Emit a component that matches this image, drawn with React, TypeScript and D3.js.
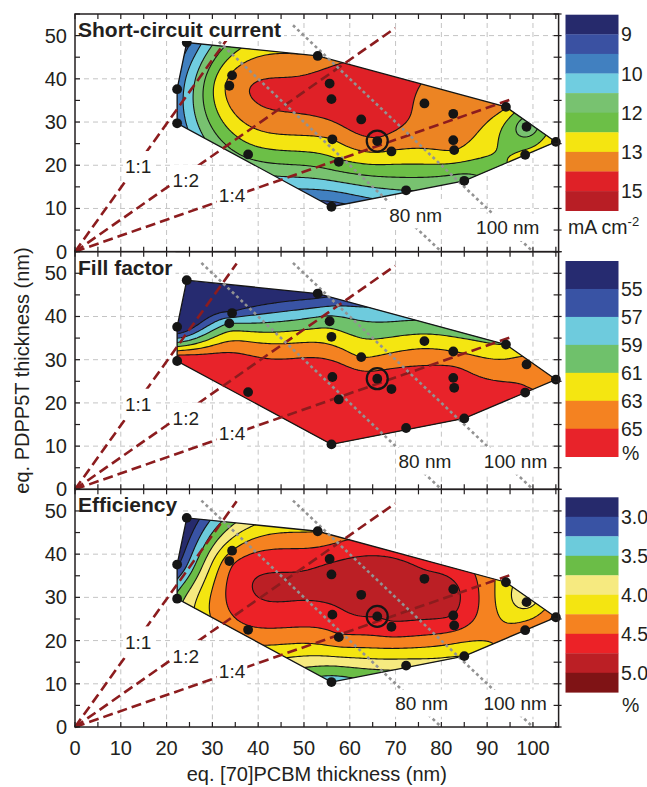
import React, { useLayoutEffect, useRef, useState } from 'react';
import * as d3 from 'd3';

const W = 647;
const H = 787;
const FONT = '"Liberation Sans", Arial, Helvetica, sans-serif';

// plot geometry
const X0 = 75;
const X_MAX = 105.6;
const PW = 483.6;
const PANEL_TOP = 14;
const PH = 237.67;
const Y_MAX = 55;

// device positions: eq. [70]PCBM (x) and eq. PDPP5T (y) thickness, nm
const pcbm = [24.4, 22.3, 22.3, 34.3, 33.7, 37.8, 53.0, 55.6, 56.0, 56.2, 57.6, 56.0, 62.5, 66.0, 69.1, 72.3, 76.3, 82.6, 82.6, 82.8, 85.0, 94.1, 98.6, 98.3, 105.0];
const pdpp = [48.4, 37.6, 29.7, 40.8, 38.4, 22.5, 45.3, 38.9, 35.3, 26.0, 20.8, 10.4, 30.6, 25.6, 23.2, 14.2, 34.3, 31.9, 25.8, 23.5, 16.4, 33.5, 28.9, 22.4, 25.4];
const circledDevice = 13;

// measured values at each device
const jsc = [9.5, 10.0, 9.9, 13.6, 13.7, 12.2, 13.6, 14.8, 14.75, 13.5, 12.6, 9.4, 14.75, 14.1, 13.45, 11.25, 14.1, 14.0, 13.8, 13.5, 11.6, 13.55, 11.6, 13.0, 13.6];
const ff = [50, 52.4, 67.3, 55.5, 59, 68, 54, 60, 62, 67, 68, 67, 63, 66, 67, 67, 62, 63, 66, 66, 67, 61, 64, 65.2, 64];
const eff = [2.7, 2.95, 3.6, 4.25, 4.4, 4.45, 4.25, 4.7, 4.85, 4.65, 4.45, 3.35, 4.95, 4.76, 4.68, 3.85, 4.8, 4.8, 4.74, 4.6, 4.0, 4.1, 3.9, 4.4, 4.55];

// contour levels and colour bands (low -> high)
const jscLevels = [9, 9.75, 10.5, 11.25, 12, 12.75, 13.5, 14.25, 15];
const jscColors = ['#262a6c', '#3a51a2', '#4180c0', '#70cde0', '#78c270', '#6cbf47', '#f4e511', '#ec8423', '#df2127', '#b81e25'];
const jscTicks = ['9', '', '10', '', '12', '', '13', '', '15'];

const ffLevels = [55, 57, 59, 61, 63, 65];
const ffColors = ['#262b70', '#3953a4', '#6ecbdd', '#6fc16b', '#f4e611', '#f48221', '#e8232a'];
const ffTicks = ['55', '57', '59', '61', '63', '65'];

const effLevels = [3.0, 3.25, 3.5, 3.75, 4.0, 4.25, 4.5, 4.75, 5.0];
const effColors = ['#262a6c', '#3953a4', '#6ccbdb', '#6bbd47', '#f6ea80', '#f4e511', '#f58220', '#ec2227', '#bb1f25', '#7f1315'];
const effTicks = ['3.0', '', '3.5', '', '4.0', '', '4.5', '', '5.0'];

// blend ratio lines (PDPP5T:PCBM) slope and end x
const ratioNames = ['1:1', '1:2', '1:4'];
const ratioSlopes = [1.48, 0.74, 0.37];
const ratioEnds = [35.3, 69.9, 95.7];
const ratioLabelAt = [[13.8, 19.7], [24.2, 16.5], [34.3, 13.0]];

// total thickness lines x + y = const
const totals = [80, 100];
const totalStartY = 52.4;

const titles = ['Short-circuit current', 'Fill factor', 'Efficiency'];
const units = ['mA cm', '%', '%'];
const cbTops = [14.7, 261, 497.3];
const cbBottoms = [210.7, 456.7, 692.3];
const unitY = [227, 453, 705];
const totalLabelAt = [
  [[74.4, 8.5], [94.5, 5.6]],
  [[76.4, 6.5], [96.2, 6.5]],
  [[75.7, 5.5], [96.1, 5.5]],
];

const panels = [
  { values: jsc, levels: jscLevels, colors: jscColors, ticks: jscTicks },
  { values: ff, levels: ffLevels, colors: ffColors, ticks: ffTicks },
  { values: eff, levels: effLevels, colors: effColors, ticks: effTicks },
];

const NX = 240;
const NY = 118;
const pts: [number, number][] = pcbm.map((x, i) => [x, pdpp[i]]);

// thin-plate spline through the measured devices (coordinates in 10 nm units)
function thinPlate(values: number[]) {
  const n = pts.length;
  const m = n + 3;
  const P = pts.map(([a, b]) => [a / 10, b / 10]);
  const phi = (r2: number) => (r2 > 0 ? 0.5 * r2 * Math.log(r2) : 0);
  const A: number[][] = [];
  for (let i = 0; i < m; i++) A.push(new Array(m + 1).fill(0));
  for (let i = 0; i < n; i++) {
    for (let j = 0; j < n; j++) {
      const r2 = (P[i][0] - P[j][0]) ** 2 + (P[i][1] - P[j][1]) ** 2;
      A[i][j] = phi(r2);
    }
    A[i][n] = 1; A[i][n + 1] = P[i][0]; A[i][n + 2] = P[i][1];
    A[n][i] = 1; A[n + 1][i] = P[i][0]; A[n + 2][i] = P[i][1];
    A[i][m] = values[i];
  }
  for (let c = 0; c < m; c++) {
    let piv = c;
    for (let r = c + 1; r < m; r++) if (Math.abs(A[r][c]) > Math.abs(A[piv][c])) piv = r;
    [A[c], A[piv]] = [A[piv], A[c]];
    for (let r = 0; r < m; r++) {
      if (r === c) continue;
      const f = A[r][c] / A[c][c];
      if (f === 0) continue;
      for (let k = c; k <= m; k++) A[r][k] -= f * A[c][k];
    }
  }
  const sol = A.map((row, i) => row[m] / row[i]);
  return (x: number, y: number) => {
    const u = x / 10, v = y / 10;
    let s = sol[n] + sol[n + 1] * u + sol[n + 2] * v;
    for (let i = 0; i < n; i++) s += sol[i] * phi((u - P[i][0]) ** 2 + (v - P[i][1]) ** 2);
    return s;
  };
}

function gridValues(values: number[]) {
  const f = thinPlate(values);
  const grid = new Array(NX * NY);
  for (let j = 0; j < NY; j++) {
    const y = Y_MAX - ((j + 0.5) * Y_MAX) / NY;
    for (let i = 0; i < NX; i++) grid[j * NX + i] = f(((i + 0.5) * X_MAX) / NX, y);
  }
  return grid;
}

function BoxedText({ cx, cy, text, size = 19, padX = 2, padY = 4 }: any) {
  const ref = useRef<SVGTextElement>(null);
  const [w, setW] = useState(0);
  useLayoutEffect(() => {
    if (ref.current) setW(ref.current.getComputedTextLength());
  }, [text]);
  return (
    <g>
      <rect x={cx - w / 2 - padX} y={cy - size / 2 - padY} width={w + 2 * padX} height={size + 2 * padY} fill="#fff" />
      <text ref={ref} x={cx} y={cy + size * 0.36} textAnchor="middle" fontSize={size} fill="#231f20">
        {text}
      </text>
    </g>
  );
}

function Title({ x, y, text }: any) {
  const ref = useRef<SVGTextElement>(null);
  const [w, setW] = useState(0);
  useLayoutEffect(() => {
    if (ref.current) setW(ref.current.getComputedTextLength());
  }, [text]);
  return (
    <g>
      <rect x={x - 2} y={y - 22} width={w + 5} height={26} fill="#fff" />
      <text ref={ref} x={x} y={y} fontSize={21} fontWeight="bold" fill="#231f20">
        {text}
      </text>
    </g>
  );
}

function Panel({ index }: { index: number }) {
  const { values, levels, colors } = panels[index];
  const top = PANEL_TOP + index * PH;
  const x = d3.scaleLinear().domain([0, X_MAX]).range([X0, X0 + PW]);
  const y = d3.scaleLinear().domain([0, Y_MAX]).range([top + PH, top]);

  const grid = gridValues(values);
  const contours = d3.contours().size([NX, NY]).thresholds(levels)(grid);
  const proj = d3.geoTransform({
    point(this: any, gx: number, gy: number) {
      this.stream.point(X0 + (gx * PW) / NX, top + (gy * PH) / NY);
    },
  });
  const path = d3.geoPath(proj);
  const hull = d3.polygonHull(pts.map(([a, b]) => [x(a), y(b)] as [number, number]))!;
  const hullD = 'M' + hull.map((p) => p.join(',')).join('L') + 'Z';
  const clipId = `hull-${index}`;

  const xGrid = d3.range(10, 101, 10);
  const yGrid = d3.range(10, 51, 10);
  const xTicks = d3.range(0, 106, 5);
  const yTicks = d3.range(0, 56, 5);

  return (
    <g>
      <defs>
        <clipPath id={clipId}>
          <path d={hullD} />
        </clipPath>
      </defs>
      {xGrid.map((v) => (
        <line key={'gx' + v} x1={x(v)} x2={x(v)} y1={top} y2={top + PH} stroke="#c4c4c4" strokeDasharray="5,4" />
      ))}
      {yGrid.map((v) => (
        <line key={'gy' + v} x1={X0} x2={X0 + PW} y1={y(v)} y2={y(v)} stroke="#c4c4c4" strokeDasharray="5,4" />
      ))}
      <g clipPath={`url(#${clipId})`}>
        <path d={hullD} fill={colors[0]} />
        {contours.map((c, k) => (
          <path key={'f' + k} d={path(c as any) || ''} fill={colors[k + 1]} />
        ))}
        {contours.map((c, k) => (
          <path key={'s' + k} d={path(c as any) || ''} fill="none" stroke="#151515" strokeWidth={1.1} />
        ))}
      </g>
      <path d={hullD} fill="none" stroke="#151515" strokeWidth={1.3} />

      {ratioSlopes.map((s, k) => (
        <line key={'r' + k} x1={x(0)} y1={y(0)} x2={x(ratioEnds[k])} y2={y(ratioEnds[k] * s)}
          stroke="#8c1c1e" strokeWidth={2.6} strokeDasharray="10,5" />
      ))}
      {totals.map((t) => (
        <line key={'t' + t} x1={x(t - totalStartY)} y1={y(totalStartY)} x2={x(t)} y2={y(0)}
          stroke="#939393" strokeWidth={2.6} strokeDasharray="3,3" />
      ))}
      {ratioNames.map((n, k) => (
        <BoxedText key={n} cx={x(ratioLabelAt[k][0])} cy={y(ratioLabelAt[k][1])} text={n} padY={6} />
      ))}
      {totals.map((t, k) => (
        <BoxedText key={'tl' + t} cx={x(totalLabelAt[index][k][0])} cy={y(totalLabelAt[index][k][1])} text={`${t} nm`} />
      ))}

      {pts.map(([a, b], k) => (
        <circle key={'p' + k} cx={x(a)} cy={y(b)} r={4.9} fill="#151515" />
      ))}
      <circle cx={x(pcbm[circledDevice])} cy={y(pdpp[circledDevice])} r={10.5} fill="none" stroke="#151515" strokeWidth={2.2} />

      <Title x={78} y={top + 23} text={titles[index]} />

      <rect x={X0} y={top} width={PW} height={PH} fill="none" stroke="#231f20" strokeWidth={1.5} />
      {xTicks.map((v) => (
        <g key={'xt' + v}>
          <line x1={x(v)} x2={x(v)} y1={top + PH} y2={top + PH - 5} stroke="#231f20" strokeWidth={1.2} />
          <line x1={x(v)} x2={x(v)} y1={top} y2={top + 5} stroke="#231f20" strokeWidth={1.2} />
        </g>
      ))}
      {yTicks.map((v) => (
        <g key={'yt' + v}>
          <line x1={X0} x2={X0 + 5} y1={y(v)} y2={y(v)} stroke="#231f20" strokeWidth={1.2} />
          <line x1={X0 + PW - 5} x2={X0 + PW + 3} y1={y(v)} y2={y(v)} stroke="#231f20" strokeWidth={1.2} />
        </g>
      ))}
      {yGrid.concat([0]).map((v) => (
        <text key={'yl' + v} x={67} y={y(v) + 7} textAnchor="end" fontSize={20} fill="#231f20">
          {v}
        </text>
      ))}
    </g>
  );
}

function ColorBar({ index }: { index: number }) {
  const { colors, ticks } = panels[index];
  const band = d3.scaleLinear().domain([0, colors.length]).range([cbTops[index], cbBottoms[index]]);
  return (
    <g>
      {colors.map((c, k) => (
        <rect key={k} x={565.5} y={band(k)} width={53} height={band(k + 1) - band(k) + 0.3} fill={c} />
      ))}
      {ticks.map((t, k) =>
        t ? (
          <text key={'l' + k} x={621} y={band(k + 1) + 7} fontSize={19.5} fill="#231f20">
            {t}
          </text>
        ) : null
      )}
      <text x={index === 0 ? 568 : 622} y={unitY[index] + 7} fontSize={19.5} fill="#231f20">
        {units[index]}
        {index === 0 ? (
          <tspan fontSize={13} dy={-8}>
            -2
          </tspan>
        ) : null}
      </text>
    </g>
  );
}

export default function App() {
  const xLabels = d3.range(0, 101, 10);
  const x = d3.scaleLinear().domain([0, X_MAX]).range([X0, X0 + PW]);
  return (
    <svg width={W} height={H} style={{ position: 'absolute', left: 0, top: 0, display: 'block', fontFamily: FONT, background: '#fff' }}>
      <rect width={W} height={H} fill="#fff" />
      {[0, 1, 2].map((i) => (
        <Panel key={i} index={i} />
      ))}
      {[0, 1, 2].map((i) => (
        <ColorBar key={'cb' + i} index={i} />
      ))}
      {xLabels.map((v) => (
        <text key={v} x={x(v)} y={755} textAnchor="middle" fontSize={20} fill="#231f20">
          {v}
        </text>
      ))}
      <text x={X0 + PW / 2} y={781} textAnchor="middle" fontSize={20} fill="#231f20">
        eq. [70]PCBM thickness (nm)
      </text>
      <text transform={`translate(29, ${PANEL_TOP + 1.5 * PH}) rotate(-90)`} textAnchor="middle" fontSize={20} fill="#231f20">
        eq. PDPP5T thickness (nm)
      </text>
    </svg>
  );
}
